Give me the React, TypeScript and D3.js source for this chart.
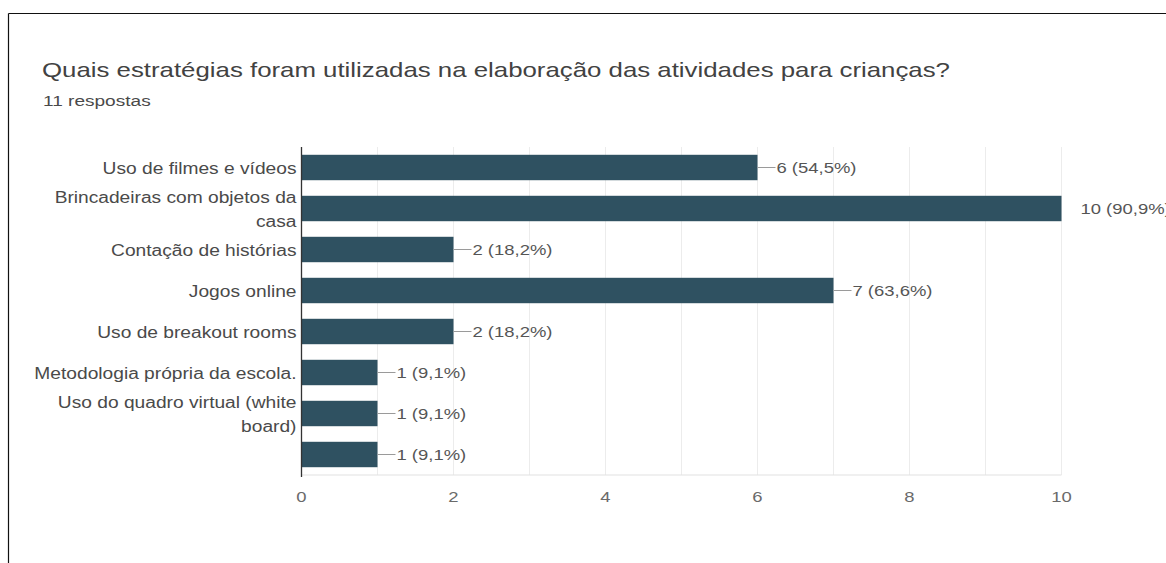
import React from "react";
import * as d3 from "d3";

const W = 1166;
const H = 563;

const title = "Quais estratégias foram utilizadas na elaboração das atividades para crianças?";
const subtitle = "11 respostas";

const categories: string[][] = [
  ["Uso de filmes e vídeos"],
  ["Brincadeiras com objetos da", "casa"],
  ["Contação de histórias"],
  ["Jogos online"],
  ["Uso de breakout rooms"],
  ["Metodologia própria da escola."],
  ["Uso do quadro virtual (white", "board)"],
  [""],
];
const counts = [6, 10, 2, 7, 2, 1, 1, 1];
const percents = ["54,5%", "90,9%", "18,2%", "63,6%", "18,2%", "9,1%", "9,1%", "9,1%"];
const xTicks = [0, 2, 4, 6, 8, 10];

const SX = 1.23; // horizontal stretch of the screenshot
const FONT = "'Liberation Sans', Arial, sans-serif";

function T({ x, y, size, fill, anchor = "start", children, weight = "normal" }: any) {
  return (
    <text
      transform={`translate(${x},${y}) scale(${SX},1)`}
      fontSize={size}
      fill={fill}
      textAnchor={anchor}
      fontFamily={FONT}
      fontWeight={weight}
      dominantBaseline="central"
    >
      {children}
    </text>
  );
}

export default function App() {
  const x = d3.scaleLinear().domain([0, 10]).range([301.5, 1061.5]);
  const y = d3
    .scaleBand<number>()
    .domain(d3.range(categories.length))
    .range([147, 475])
    .paddingInner(0.38)
    .paddingOuter(0.19);
  const grid = d3.range(1, 11);
  const maxV = d3.max(counts)!;

  return (
    <svg
      width={W}
      height={H}
      style={{ position: "absolute", left: 0, top: 0, background: "#fff" }}
    >
      <rect x={0} y={0} width={W} height={H} fill="#fff" />
      {/* frame */}
      <line x1={8.5} y1={13.5} x2={W} y2={13.5} stroke="#111" strokeWidth={1.2} />
      <line x1={8.5} y1={13.5} x2={8.5} y2={H} stroke="#111" strokeWidth={1.2} />

      {/* title */}
      <T x={42} y={70} size={21} fill="#424242">{title}</T>
      <T x={43} y={101} size={15.5} fill="#4a4a4a">{subtitle}</T>

      {/* grid */}
      {grid.map((g) => (
        <line key={g} x1={x(g)} x2={x(g)} y1={147} y2={475} stroke="#ececec" strokeWidth={1} />
      ))}
      <line x1={x(0)} x2={x(10)} y1={475} y2={475} stroke="#e2e2e2" strokeWidth={1.2} />

      {/* bars */}
      {counts.map((v, i) => {
        const y0 = y(i)!;
        const cy = y0 + y.bandwidth() / 2;
        const xe = x(v);
        return (
          <g key={i}>
            <rect x={x(0)} y={y0} width={xe - x(0)} height={y.bandwidth()} fill="#2f5161" />
            {v !== maxV && (
              <line x1={xe} x2={xe + 18} y1={cy} y2={cy} stroke="#9a9a9a" strokeWidth={1} />
            )}
            <T x={xe + 19} y={cy + 1} size={15} fill="#555">{`${v} (${percents[i]})`}</T>
          </g>
        );
      })}

      {/* left axis */}
      <line x1={x(0)} x2={x(0)} y1={147} y2={477} stroke="#333" strokeWidth={1.3} />

      {/* category labels */}
      {categories.map((lines, i) => {
        const cy = y(i)! + y.bandwidth() / 2;
        const lh = 24;
        const start = cy + 1 - ((lines.length - 1) * lh) / 2;
        return lines.map((ln, j) => (
          <T key={`${i}-${j}`} x={296.5} y={start + j * lh} size={15.6} fill="#4a4a4a" anchor="end">
            {ln}
          </T>
        ));
      })}

      {/* x tick labels */}
      {xTicks.map((t) => (
        <T key={t} x={x(t)} y={497} size={15} fill="#6a6a6a" anchor="middle">{t}</T>
      ))}
    </svg>
  );
}
